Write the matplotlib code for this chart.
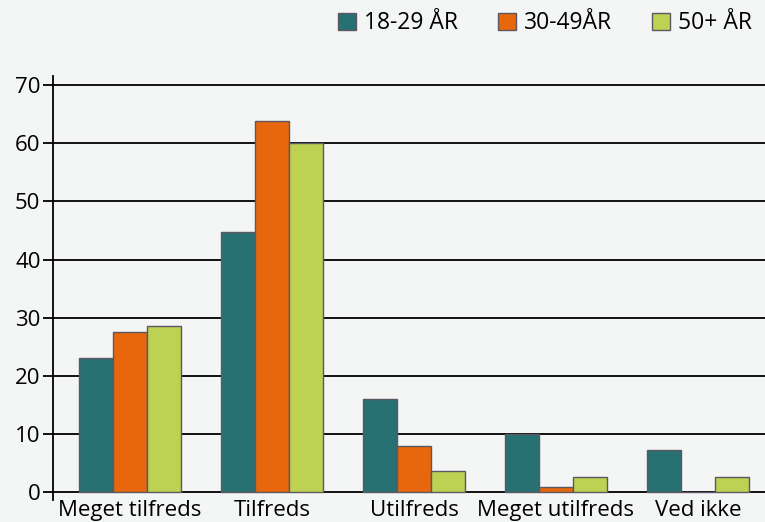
import numpy as np
import matplotlib.pyplot as plt
from matplotlib.patches import Patch

categories = ["Meget tilfreds", "Tilfreds", "Utilfreds", "Meget utilfreds", "Ved ikke"]
series_names = ["18-29 ÅR", "30-49ÅR", "50+ ÅR"]
age_18_29 = [23.0, 44.8, 16.0, 10.0, 7.2]
age_30_49 = [27.6, 63.8, 7.9, 0.8, 0.0]
age_50_plus = [28.6, 60.0, 3.6, 2.6, 2.6]

colors = ["#277172", "#e8670c", "#bdd152"]
edge = "#5d5763"
bg = "#f4f6f5"

plt.rcParams['font.family'] = ['Open Sans', 'DejaVu Sans']

fig = plt.figure(figsize=(7.65, 5.22), dpi=100, facecolor=bg)
ax = fig.add_axes([53 / 765, 22 / 522, 1 - 53 / 765, (500 - 76) / 522])
ax.set_facecolor(bg)

x = np.arange(len(categories))
w = 0.24
for k, vals in enumerate([age_18_29, age_30_49, age_50_plus]):
    ax.bar(x + (k - 1) * w, vals, width=w, color=colors[k],
           edgecolor=edge, linewidth=1.0, zorder=3)

for yv in range(0, 80, 10):
    ax.axhline(yv, color="black", linewidth=1.3, zorder=2)

ax.set_xlim(-0.542, 4.472)
ax.set_ylim(-1.4, 71.6)
ax.set_yticks(range(0, 80, 10))
ax.set_xticks(x)
ax.set_xticklabels(categories, fontsize=16)
ax.tick_params(axis='y', length=7, width=1.3, labelsize=16, pad=2)
ax.tick_params(axis='x', length=0, pad=0)
for s in ["top", "right", "bottom"]:
    ax.spines[s].set_visible(False)
ax.spines["left"].set_linewidth(1.3)

handles = [Patch(facecolor=c, edgecolor=edge, linewidth=1.0) for c in colors]
fig.legend(handles, series_names, loc="upper right", bbox_to_anchor=(1.01, 1.018),
           ncol=3, frameon=False, fontsize=16.5, handlelength=0.78, handleheight=0.78,
           handletextpad=0.35, columnspacing=1.75)

fig.savefig("out.png", dpi=100, facecolor=bg)
